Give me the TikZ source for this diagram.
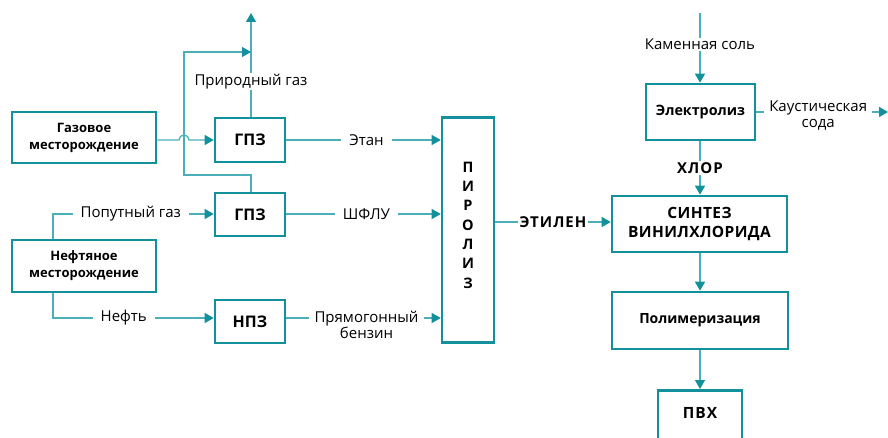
\documentclass[tikz,border=0pt]{standalone}
\usepackage{fontspec}
\setmainfont{Open Sans}
\usetikzlibrary{arrows.meta}
\definecolor{teal1}{HTML}{12909B}
\definecolor{teal2}{HTML}{4AAFB8}
\tikzset{
  box/.style={draw=teal1, line width=2.6pt, fill=white, inner sep=0pt, font=\bfseries\fontsize{13}{17}\selectfont, align=center},
  conn/.style={draw=teal2, line width=1.3pt},
  arr/.style={conn, -{Triangle[length=9pt,width=10pt,color=teal1]}},
  lbl/.style={fill=white, inner xsep=8pt, inner ysep=1pt, font=\fontsize{15}{16}\selectfont, text=black, align=center},
  blbl/.style={lbl, font=\bfseries\addfontfeatures{LetterSpace=7}\fontsize{15}{16}\selectfont},
}
\begin{document}
\begin{tikzpicture}[x=1pt,y=-1pt]
\useasboundingbox (0,0) rectangle (888,438);
% boxes
\node[box, minimum width=144pt, minimum height=51pt] (gaz) at (84,137.5) {Газовое\\месторождение};
\node[box, minimum width=70pt, minimum height=44pt, font=\bfseries\fontsize{16}{18}\selectfont] (gpz1) at (250,140) {ГПЗ};
\node[box, minimum width=70pt, minimum height=43pt, font=\bfseries\fontsize{16}{18}\selectfont] (gpz2) at (250,214.5) {ГПЗ};
\node[box, minimum width=144pt, minimum height=52pt] (neft) at (84,266) {Нефтяное\\месторождение};
\node[box, minimum width=70pt, minimum height=43pt, font=\bfseries\fontsize{16}{18}\selectfont] (npz) at (250,321.5) {НПЗ};
\node[box, minimum width=52pt, minimum height=225pt, font=\bfseries\fontsize{14.5}{19.3}\selectfont] (piro) at (468,230) {};
\node[font=\bfseries\fontsize{14.5}{19.3}\selectfont, align=center] (pirotxt) at (468,225) {П\\И\\Р\\О\\Л\\И\\З};
\node[box, minimum width=109pt, minimum height=56pt, font=\bfseries\fontsize{14.3}{17}\selectfont] (elec) at (700.5,112) {Электролиз};
\node[box, minimum width=175pt, minimum height=56pt, font=\bfseries\addfontfeatures{LetterSpace=2.5}\fontsize{15.5}{20}\selectfont] (sint) at (699.5,224) {СИНТЕЗ\\ВИНИЛХЛОРИДА};
\node[box, minimum width=176pt, minimum height=57pt, font=\bfseries\fontsize{14}{17}\selectfont] (poly) at (700,320.5) {Полимеризация};
\node[box, minimum width=84pt, minimum height=62pt, anchor=north] (pvh) at (700,389) {};
\node[font=\bfseries\addfontfeatures{LetterSpace=7}\fontsize{15.5}{17}\selectfont] (pvhtxt) at (700,413) {ПВХ};
% coordinates
\coordinate (top1) at (251,13);
\coordinate (hop) at (184,140);
\coordinate (salt) at (700,13);
\coordinate (soda) at (888,112);
% gas field -> GPZ1 with hop
\draw[arr] (gaz.east |- hop) -- ([xshift=-5pt]hop) arc[start angle=180, end angle=0, radius=5pt] -- (gpz1.west |- hop);
% natural gas up
\draw[arr] (gpz1.north -| top1) -- node[lbl, pos=0.34] {Природный газ} (top1);
% gpz2 top loop to natural gas line
\draw[arr] (gpz2.north -| top1) -- (251,175) -- (184,175) -- (184,52) -- (251,52);
% products to pyrolysis
\draw[arr] (gpz1.east) -- node[lbl, xshift=3pt] {Этан} (gpz1.east -| piro.west);
\draw[arr] (gpz2.east |- 0,214) -- node[lbl, xshift=3pt] {ШФЛУ} (piro.west |- 0,214);
\draw[arr] (npz.east |- 0,318) -- node[lbl, xshift=3pt, yshift=-7pt, inner xsep=6pt, inner ysep=0pt, font=\fontsize{15}{15}\selectfont] {Прямогонный\\бензин} (piro.west |- 0,318);
% oil field
\draw[arr] (neft.north -| 53,0) |- node[lbl, pos=0.742] {Попутный газ} (gpz2.west |- 0,214);
\draw[arr] (neft.south -| 53,0) |- node[lbl, pos=0.72] {Нефть} (npz.west |- 0,318);
% ethylene
\draw[arr] (piro.east |- 0,222) -- node[blbl, inner xsep=2pt] {ЭТИЛЕН} (sint.west |- 0,222);
% right column
\draw[arr] (salt) -- node[lbl, pos=0.45, inner xsep=2pt] {Каменная соль} (elec.north -| salt);
\draw[arr] (elec.east) -- node[lbl, pos=0.47, inner xsep=5pt, yshift=-4pt, font=\fontsize{15}{16}\selectfont] {Каустическая\\сода} (soda);
\draw[arr] (elec.south -| salt) -- node[blbl, inner xsep=2pt] {ХЛОР} (sint.north -| salt);
\draw[arr] (sint.south -| salt) -- (poly.north -| salt);
\draw[arr] (poly.south -| salt) -- (pvh.north -| salt);
\end{tikzpicture}
\end{document}
